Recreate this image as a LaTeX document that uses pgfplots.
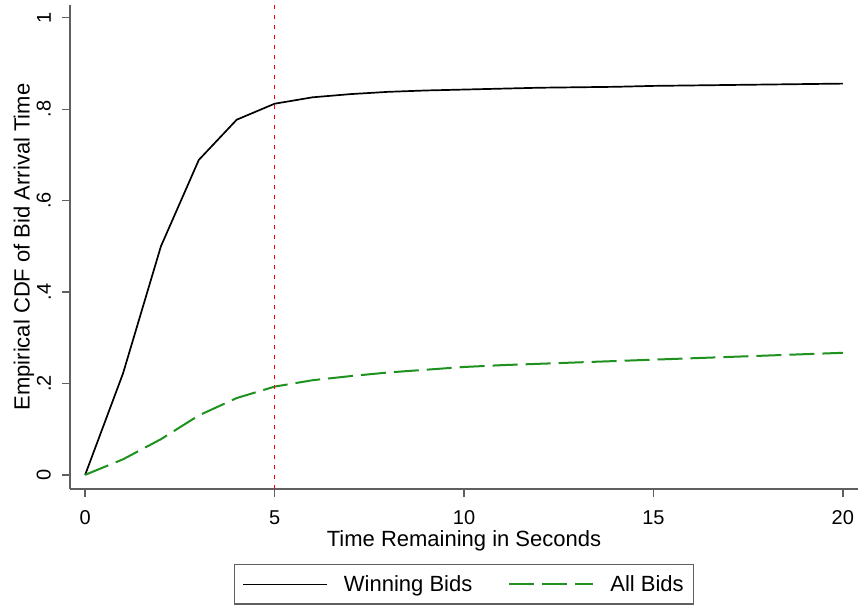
\documentclass[border=0pt]{standalone}
\usepackage{fontspec}
\setmainfont{Liberation Sans}
\usepackage{pgfplots}
\pgfplotsset{compat=1.18}
\definecolor{stgreen}{RGB}{30,145,30}
\definecolor{axgray}{RGB}{95,95,95}
\begin{document}
\begin{tikzpicture}
\useasboundingbox (0pt,0pt) rectangle (859pt,606pt);
\begin{axis}[
  at={(70pt,117pt)}, anchor=south west,
  scale only axis, width=788pt, height=484pt,
  xmin=-0.4, xmax=20.4, ymin=-0.031, ymax=1.028,
  axis x line*=bottom, axis y line*=left,
  axis line style={axgray, line width=1.6pt},
  tick style={axgray, line width=1.4pt},
  tick align=outside, major tick length=8pt,
  xtick={0,5,10,15,20}, xticklabels={0,5,10,15,20},
  ytick={0,0.2,0.4,0.6,0.8,1}, yticklabels={0,.2,.4,.6,.8,1},
  minor tick num=0,
  xticklabel style={font=\fontsize{20}{24}\selectfont, anchor=base, inner sep=0pt},
  xticklabel shift=27.5pt,
  yticklabel style={font=\fontsize{20}{24}\selectfont, rotate=90, anchor=south, inner sep=0pt},
  yticklabel shift=11pt,
  xlabel={Time Remaining in Seconds},
  ylabel={Empirical CDF of Bid Arrival Time},
  xlabel style={font=\fontsize{22}{26}\selectfont, at={(axis description cs:0.5,0)}, anchor=base, yshift=-57pt, inner sep=0pt},
  ylabel style={font=\fontsize{22}{26}\selectfont, at={(axis description cs:-0.0585,0.5)}, anchor=center, inner sep=0pt},
  legend columns=2,
  legend style={at={(axis description cs:0.5,-0.197)}, anchor=center,
    draw=axgray, line width=1.2pt, font=\fontsize{22}{26}\selectfont,
    inner xsep=8pt, inner ysep=9pt,
    /tikz/every odd column/.append style={column sep=14pt},
    /tikz/every even column/.append style={column sep=34pt}},
  legend cell align=left,
  legend image code/.code={\draw[#1] (0pt,0pt) -- (84pt,0pt);},
  clip=false,
]
\addplot[black, line width=1.7pt] coordinates {
(0,0) (1,0.222) (2,0.500) (3,0.689) (4,0.777) (5,0.812) (6,0.826) (7,0.833) (8,0.838) (9,0.841) (10,0.843) (11,0.845) (12,0.847) (13,0.848) (14,0.849) (15,0.851) (16,0.852) (17,0.853) (18,0.854) (19,0.855) (20,0.856)};
\addlegendentry{Winning Bids}
\addplot[stgreen, line width=2pt, dash pattern=on 25pt off 8pt] coordinates {
(0,0) (1,0.034) (2,0.078) (3,0.130) (4,0.168) (5,0.193) (6,0.207) (7,0.216) (8,0.224) (9,0.230) (10,0.236) (11,0.240) (12,0.243) (13,0.246) (14,0.249) (15,0.252) (16,0.255) (17,0.258) (18,0.261) (19,0.264) (20,0.267)};
\addlegendentry{All Bids}
\addplot[red, line width=1.4pt, dash pattern=on 4pt off 6pt, forget plot] coordinates {(5,-0.031) (5,1.028)};
\end{axis}
\end{tikzpicture}
\end{document}
